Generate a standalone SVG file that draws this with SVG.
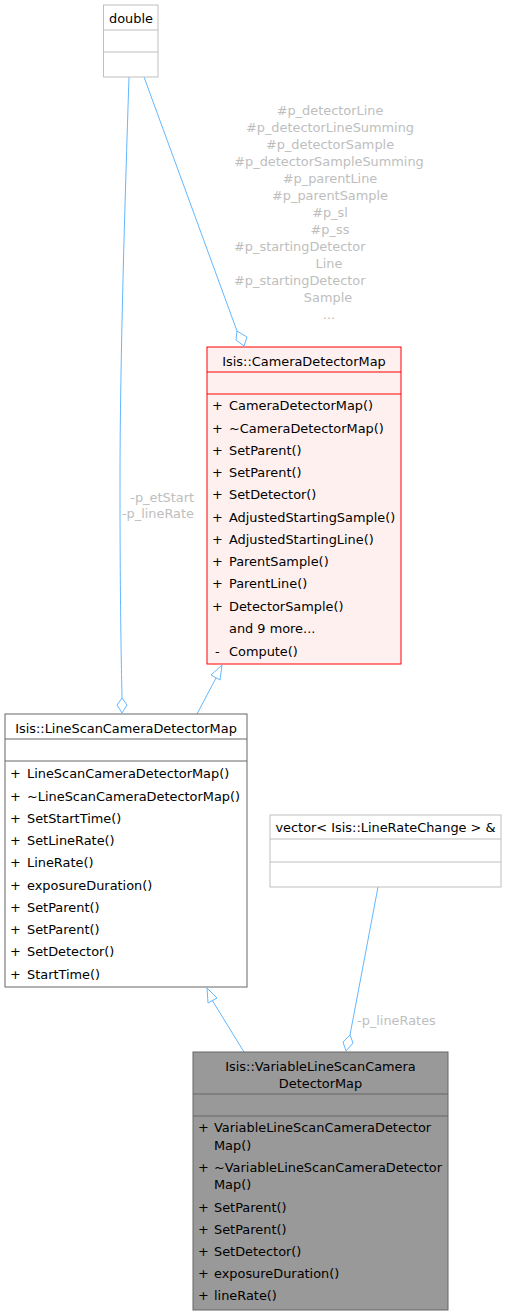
<svg xmlns="http://www.w3.org/2000/svg" width="507" height="1315" viewBox="0 0 507 1315">
<defs>
<style>
text{font-family:"DejaVu Sans",Verdana,sans-serif;font-size:12.9px;fill:#000}
.t{text-anchor:middle}
.lbl{fill:#bebebe}
.lc{fill:#bebebe;text-anchor:middle}
.lr{fill:#bebebe;text-anchor:end}
.e{fill:none;stroke:#63b8ff;stroke-width:1}
.ah{fill:#fff;stroke:#63b8ff;stroke-width:1}
.gray{fill:#fff;stroke:#bfbfbf}
.gl{stroke:#bfbfbf}
.dark{fill:#fff;stroke:#666}
.dl{stroke:#666}
.red{fill:#fff0f0;stroke:#ff0000}
.rl{stroke:#ff0000}
.cur{fill:#999;stroke:#666}
</style>
</defs>
<g id="edges">
<path class="e" d="M129,77 C125,200 120,360 120,480 C120,590 121,650 122,698"/>
<polygon class="ah" points="122,698 117,705 122,713 127,705"/>
<path class="e" d="M144,77 L237,331"/>
<polygon class="ah" points="237,331 236,340 244,346 247,337"/>
<path class="e" d="M197,714 L216,678"/>
<polygon class="ah" points="222,665 211,675 220,680"/>
<path class="e" d="M244,1052 L212,1000"/>
<polygon class="ah" points="207,988 208,1003 217,998"/>
<path class="e" d="M378,887 L350,1035"/>
<polygon class="ah" points="350,1035 343,1042 346,1051 353,1043"/>
<text class="lr" x="194" y="502">-p_etStart</text>
<text class="lr" x="194" y="518">-p_lineRate</text>
<text class="lc" x="330" y="115">#p_detectorLine</text>
<text class="lc" x="330" y="132">#p_detectorLineSumming</text>
<text class="lc" x="330" y="149">#p_detectorSample</text>
<text class="lc" x="329" y="166">#p_detectorSampleSumming</text>
<text class="lc" x="330" y="183">#p_parentLine</text>
<text class="lc" x="330" y="200">#p_parentSample</text>
<text class="lc" x="330" y="217">#p_sl</text>
<text class="lc" x="330" y="234">#p_ss</text>
<text class="lbl" x="234" y="251">#p_startingDetector</text>
<text class="lc" x="329" y="268">Line</text>
<text class="lbl" x="234" y="285">#p_startingDetector</text>
<text class="lc" x="328" y="302">Sample</text>
<text class="lc" x="329" y="319">...</text>
<text class="lbl" x="357" y="1025">-p_lineRates</text>
</g>
<g id="double">
<rect class="gray" x="103.5" y="5" width="54.5" height="72"/>
<line class="gl" x1="103.5" y1="30" x2="158" y2="30"/>
<line class="gl" x1="103.5" y1="52" x2="158" y2="52"/>
<text class="t" x="131" y="23">double</text>
</g>
<g id="CameraDetectorMap">
<rect class="red" x="207" y="347" width="194" height="317"/>
<line class="rl" x1="207" y1="372" x2="401" y2="372"/>
<line class="rl" x1="207" y1="394" x2="401" y2="394"/>
<text class="t" x="304" y="366">Isis::CameraDetectorMap</text>
<text x="212" y="410">+</text><text x="229" y="410">CameraDetectorMap()</text>
<text x="212" y="432.5">+</text><text x="229" y="432.5">~CameraDetectorMap()</text>
<text x="212" y="454.5">+</text><text x="229" y="454.5">SetParent()</text>
<text x="212" y="476.5">+</text><text x="229" y="476.5">SetParent()</text>
<text x="212" y="499">+</text><text x="229" y="499">SetDetector()</text>
<text x="212" y="521.5">+</text><text x="229" y="521.5">AdjustedStartingSample()</text>
<text x="212" y="543.5">+</text><text x="229" y="543.5">AdjustedStartingLine()</text>
<text x="212" y="566">+</text><text x="229" y="566">ParentSample()</text>
<text x="212" y="588">+</text><text x="229" y="588">ParentLine()</text>
<text x="212" y="610.5">+</text><text x="229" y="610.5">DetectorSample()</text>
<text x="229" y="633">and 9 more...</text>
<text x="215" y="655.5">-</text><text x="229" y="655.5">Compute()</text>
</g>
<g id="LineScanCameraDetectorMap">
<rect class="dark" x="5" y="714" width="242" height="273"/>
<line class="dl" x1="5" y1="739" x2="247" y2="739"/>
<line class="dl" x1="5" y1="761" x2="247" y2="761"/>
<text class="t" x="126" y="733">Isis::LineScanCameraDetectorMap</text>
<text x="10" y="778">+</text><text x="27" y="778">LineScanCameraDetectorMap()</text>
<text x="10" y="800.5">+</text><text x="27" y="800.5">~LineScanCameraDetectorMap()</text>
<text x="10" y="822.5">+</text><text x="27" y="822.5">SetStartTime()</text>
<text x="10" y="845">+</text><text x="27" y="845">SetLineRate()</text>
<text x="10" y="867">+</text><text x="27" y="867">LineRate()</text>
<text x="10" y="889.5">+</text><text x="27" y="889.5">exposureDuration()</text>
<text x="10" y="911.5">+</text><text x="27" y="911.5">SetParent()</text>
<text x="10" y="934">+</text><text x="27" y="934">SetParent()</text>
<text x="10" y="956">+</text><text x="27" y="956">SetDetector()</text>
<text x="10" y="978.5">+</text><text x="27" y="978.5">StartTime()</text>
</g>
<g id="vector">
<rect class="gray" x="270" y="815" width="231" height="72"/>
<line class="gl" x1="270" y1="839" x2="501" y2="839"/>
<line class="gl" x1="270" y1="862" x2="501" y2="862"/>
<text class="t" x="385.5" y="832">vector&lt; Isis::LineRateChange &gt; &amp;</text>
</g>
<g id="VariableLineScanCameraDetectorMap">
<rect class="cur" x="193" y="1052" width="255" height="258"/>
<line class="dl" x1="193" y1="1094" x2="448" y2="1094"/>
<line class="dl" x1="193" y1="1116" x2="448" y2="1116"/>
<text class="t" x="320.5" y="1071">Isis::VariableLineScanCamera</text>
<text class="t" x="320.5" y="1088">DetectorMap</text>
<text x="198" y="1132">+</text><text x="214" y="1132">VariableLineScanCameraDetector</text>
<text x="214" y="1150">Map()</text>
<text x="198" y="1172">+</text><text x="214" y="1172">~VariableLineScanCameraDetector</text>
<text x="214" y="1188.5">Map()</text>
<text x="198" y="1212">+</text><text x="214" y="1212">SetParent()</text>
<text x="198" y="1234">+</text><text x="214" y="1234">SetParent()</text>
<text x="198" y="1256">+</text><text x="214" y="1256">SetDetector()</text>
<text x="198" y="1278">+</text><text x="214" y="1278">exposureDuration()</text>
<text x="198" y="1300">+</text><text x="214" y="1300">lineRate()</text>
</g>
</svg>
